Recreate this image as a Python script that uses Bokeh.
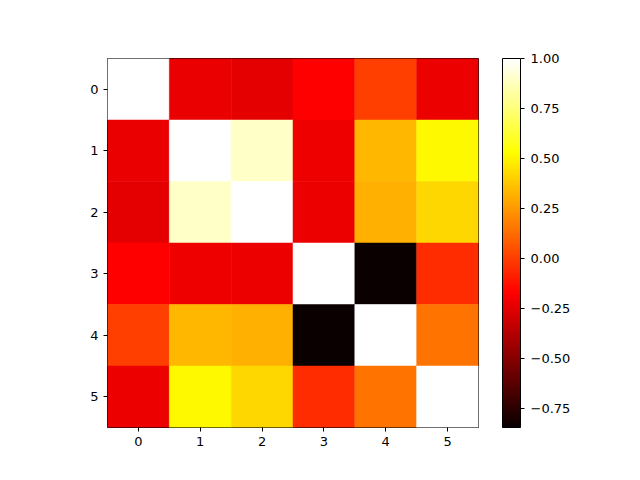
from bokeh.plotting import figure
from bokeh.layouts import row
from bokeh.models import LinearColorMapper, ColorBar, FixedTicker, Range1d, ColumnDataSource
from bokeh.embed import file_html
from bokeh.resources import INLINE

labels = [0, 1, 2, 3, 4, 5]
corr = [
    [1.000, -0.227, -0.246, -0.170, 0.004, -0.218],
    [-0.227, 1.000, 0.899, -0.213, 0.333, 0.512],
    [-0.246, 0.899, 1.000, -0.225, 0.311, 0.421],
    [-0.170, -0.213, -0.225, 1.000, -0.845, -0.048],
    [0.004, 0.333, 0.311, -0.845, 1.000, 0.145],
    [-0.218, 0.512, 0.421, -0.048, 0.145, 1.000],
]
cbar_ticks = [-0.75, -0.5, -0.25, 0.0, 0.25, 0.5, 0.75, 1.0]


def hot_palette(n=256):
    def seg(t, pts):
        for (x0, y0), (x1, y1) in zip(pts[:-1], pts[1:]):
            if x0 <= t <= x1:
                return y0 + (y1 - y0) * (t - x0) / (x1 - x0) if x1 > x0 else y1
        return pts[-1][1]
    rp = [(0.0, 0.0416), (0.365079, 1.0), (1.0, 1.0)]
    gp = [(0.0, 0.0), (0.365079, 0.0), (0.746032, 1.0), (1.0, 1.0)]
    bp = [(0.0, 0.0), (0.746032, 0.0), (1.0, 1.0)]
    out = []
    for i in range(n):
        t = i / (n - 1)
        r, g, b = (int(round(255 * seg(t, pp))) for pp in (rp, gp, bp))
        out.append("#%02x%02x%02x" % (r, g, b))
    return out


xs, ys, vs = [], [], []
for i, rw in enumerate(corr):
    for j, v in enumerate(rw):
        xs.append(labels[j])
        ys.append(labels[i])
        vs.append(v)
src = ColumnDataSource(dict(x=xs, y=ys, v=vs))

vmin = min(vs)
vmax = max(vs)
mapper = LinearColorMapper(palette=hot_palette(), low=vmin, high=vmax)

p = figure(frame_width=371, frame_height=369, output_backend="svg", toolbar_location=None,
           x_range=Range1d(-0.5, 5.5), y_range=Range1d(5.5, -0.5),
           min_border_left=107, min_border_top=58, min_border_bottom=45, min_border_right=10)
p.rect(x="x", y="y", width=1, height=1, source=src,
       fill_color={"field": "v", "transform": mapper},
       line_color={"field": "v", "transform": mapper}, line_width=0.5)

p.xgrid.visible = False
p.ygrid.visible = False
p.outline_line_color = "black"
p.outline_line_width = 1
for ax in (p.xaxis[0], p.yaxis[0]):
    ax.ticker = FixedTicker(ticks=labels)
    ax.minor_tick_line_color = None
    ax.major_tick_in = 0
    ax.major_tick_out = 4
    ax.major_label_text_font = "DejaVu Sans"
    ax.major_label_text_font_size = "13px"
    ax.major_label_text_color = "black"
    ax.axis_line_color = None
    ax.major_tick_line_color = "black"
p.yaxis[0].major_label_standoff = 5
p.xaxis[0].major_label_standoff = 5

# Colour bar in its own narrow figure, so its distance from the heatmap can be set
p2 = figure(frame_width=1, frame_height=369, output_backend="svg", toolbar_location=None,
            min_border_left=13, min_border_top=58, min_border_bottom=45, min_border_right=0)
p2.axis.visible = False
p2.xgrid.visible = False
p2.ygrid.visible = False
p2.outline_line_color = None
p2.background_fill_alpha = 0
p2.border_fill_alpha = 0

overrides = {t: ("%.2f" % t).replace("-", "\u2212") for t in cbar_ticks}
cb = ColorBar(color_mapper=mapper, width=18, height=369, padding=0, margin=0,
              ticker=FixedTicker(ticks=cbar_ticks), major_label_overrides=overrides,
              major_tick_in=0, major_tick_out=4, major_tick_line_color="black",
              bar_line_color="black", label_standoff=6,
              major_label_text_font="DejaVu Sans", major_label_text_font_size="13px",
              major_label_text_color="black",
              background_fill_alpha=0, border_line_color=None)
p2.add_layout(cb, "right")

layout = row(p, p2)
open("out.html", "w").write(file_html(layout, INLINE))
